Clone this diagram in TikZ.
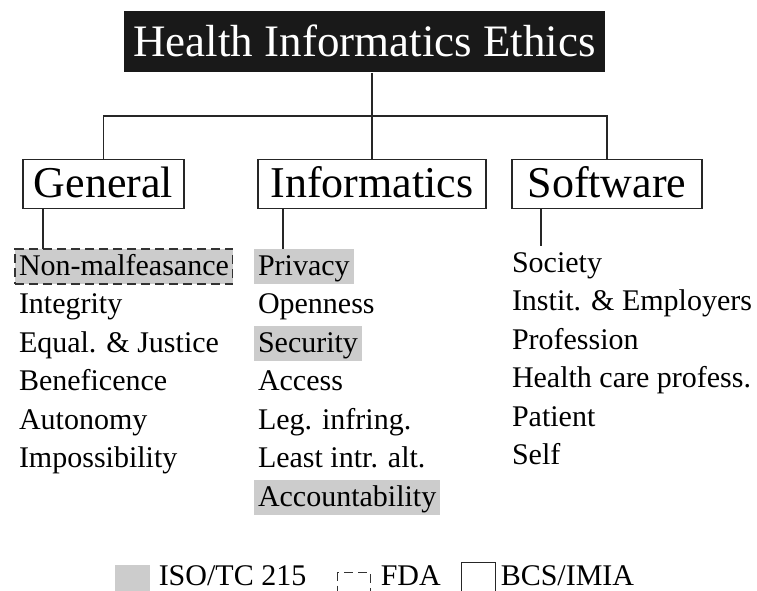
\documentclass[tikz,border=0pt]{standalone}
\usepackage{fontspec}
\setmainfont{Liberation Serif}
\usetikzlibrary{positioning}
\definecolor{isogray}{gray}{0.8}
\newcommand{\headfont}{\fontsize{44}{50}\selectfont}
\newcommand{\itemfont}{\fontsize{30}{36}\selectfont}

\begin{document}
\begin{tikzpicture}[x=1pt, y=-1pt, node distance=3.5pt, line width=1.5pt]
\tikzstyle{head}=[draw=black!85, inner sep=0pt, minimum height=49pt, text height=30pt, text depth=4pt, font=\headfont]
\tikzstyle{item}=[inner xsep=4pt, inner ysep=2pt, outer sep=0pt, text height=24pt, text depth=7pt, anchor=north west, font=\itemfont]
\tikzstyle{keylabel}=[inner xsep=4pt, inner ysep=0pt, text height=21pt, text depth=0pt, anchor=base west, font=\itemfont]
\tikzstyle{iso}=[fill=isogray]
\tikzstyle{fda}=[draw=black!80, dash pattern=on 9pt off 5pt, line width=1.2pt]
\tikzstyle{tree}=[draw=black!85]
\useasboundingbox (0,0) rectangle (757,590);

% title and the three branches
\node[fill=black!90, text=white, inner sep=0pt, minimum width=481pt, minimum height=61pt, text height=31pt, text depth=1pt, font=\fontsize{45}{50}\selectfont] (title) at (364.5,41.5) {Health Informatics Ethics};
\node[head, minimum width=161pt] (gen)  at (103.5,184) {General};
\node[head, minimum width=228pt] (inf)  at (372,184)   {Informatics};
\node[head, minimum width=190pt] (soft) at (607,184)   {Software};

\coordinate (bus) at (372,116);
\draw[tree] (title.south -| inf.north) -- (inf.north);
\draw[tree] (gen.north) |- (bus) -| (soft.north);

% General
\node[item, iso, fda] (g1) at (15,249) {Non-malfeasance};
\node[below=of g1.south west, item] (g2) {Integrity};
\node[below=of g2.south west, item] (g3) {Equal. \& Justice};
\node[below=of g3.south west, item] (g4) {Beneficence};
\node[below=of g4.south west, item] (g5) {Autonomy};
\node[below=of g5.south west, item] (g6) {Impossibility};

% Informatics
\node[item, iso] (i1) at (254,249) {Privacy};
\node[below=of i1.south west, item] (i2) {Openness};
\node[below=of i2.south west, item, iso] (i3) {Security};
\node[below=of i3.south west, item] (i4) {Access};
\node[below=of i4.south west, item] (i5) {Leg. infring.};
\node[below=of i5.south west, item] (i6) {Least intr. alt.};
\node[below=of i6.south west, item, iso] (i7) {Accountability};

% Software
\node[item] (s1) at (508,246) {Society};
\node[below=of s1.south west, item] (s2) {Instit. \& Employers};
\node[below=of s2.south west, item] (s3) {Profession};
\node[below=of s3.south west, item] (s4) {Health care profess.};
\node[below=of s4.south west, item] (s5) {Patient};
\node[below=of s5.south west, item] (s6) {Self};

\path ([xshift=28pt]g1.north west) coordinate (gstub);
\path ([xshift=29pt]i1.north west) coordinate (istub);
\path ([xshift=33pt]s1.north west) coordinate (sstub);
\draw[tree] (gstub |- gen.south) -- (gstub);
\draw[tree] (istub |- inf.south) -- (istub);
\draw[tree] (sstub |- soft.south) -- (sstub);

% legend
\node[iso, inner sep=0pt, minimum width=35pt, minimum height=35pt, anchor=north west] (isokey) at (114,564) {};
\node[keylabel] (isolab) at (154,585) {ISO/TC 215};
\node[fda, inner sep=0pt, minimum width=33pt, minimum height=33pt, anchor=north west] (fdakey) at (337,572) {};
\node[keylabel] (fdalab) at (376,585) {FDA};
\node[draw=black!85, line width=1.2pt, inner sep=0pt, minimum width=34pt, minimum height=34pt, anchor=north west] (bcskey) at (461,562) {};
\node[keylabel] (bcslab) at (496,585) {BCS/IMIA};
\end{tikzpicture}
\end{document}
